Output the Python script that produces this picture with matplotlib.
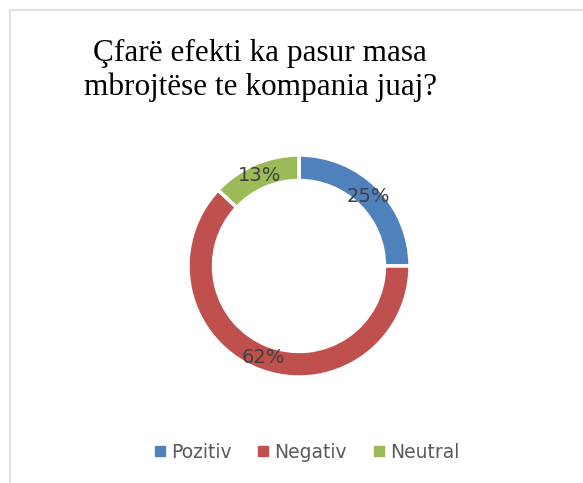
import matplotlib
matplotlib.use("Agg")
import matplotlib.pyplot as plt
import numpy as np
from matplotlib.patches import Rectangle
from matplotlib.lines import Line2D

labels = ["Pozitiv", "Negativ", "Neutral"]
values = [25, 62, 13]
colors = ["#4F81BD", "#C0504D", "#9BBB59"]
title = "Çfarë efekti ka pasur masa\nmbrojtëse te kompania juaj?"

W, H = 583, 483
fig = plt.figure(figsize=(W / 100, H / 100), dpi=100)

# light frame of the chart area
fig.patches.append(Rectangle((10 / W, -0.1), 1.5, (H - 10) / H + 0.1,
                             transform=fig.transFigure, fill=False,
                             edgecolor="#d9d9d9", linewidth=1.2))

cx, cy, r = 299, 266, 111
ax = fig.add_axes([(cx - r) / W, (H - cy - r) / H, 2 * r / W, 2 * r / H])
ring = 0.23
wedges, texts = ax.pie(values, colors=colors, startangle=90, counterclock=False,
                       radius=1, wedgeprops=dict(width=ring, edgecolor="white", linewidth=2.5))
ax.set_xlim(-1, 1)
ax.set_ylim(-1, 1)
ax.set_aspect("equal")

start = 90.0
for v in values:
    mid = np.deg2rad(start - v / sum(values) * 180)
    rr = 1 - ring / 2
    ax.text(rr * np.cos(mid), rr * np.sin(mid), f"{v}%", ha="center", va="center",
            fontsize=14, color="#404040", family="DejaVu Sans")
    start -= v / sum(values) * 360

fig.text(260 / W, 1 - 70 / H, title, ha="center", va="center", fontsize=22.5,
         family="Liberation Serif", linespacing=1.2)

handles = [Line2D([], [], marker="s", linestyle="", markersize=7, color=c) for c in colors]
fig.legend(handles, labels, loc="center", bbox_to_anchor=(305 / W, 1 - 452 / H), ncol=3,
           frameon=False, fontsize=13.5, labelcolor="#595959", handletextpad=0.1,
           columnspacing=1.2, handlelength=1.0)

fig.savefig("out.png", dpi=100)
